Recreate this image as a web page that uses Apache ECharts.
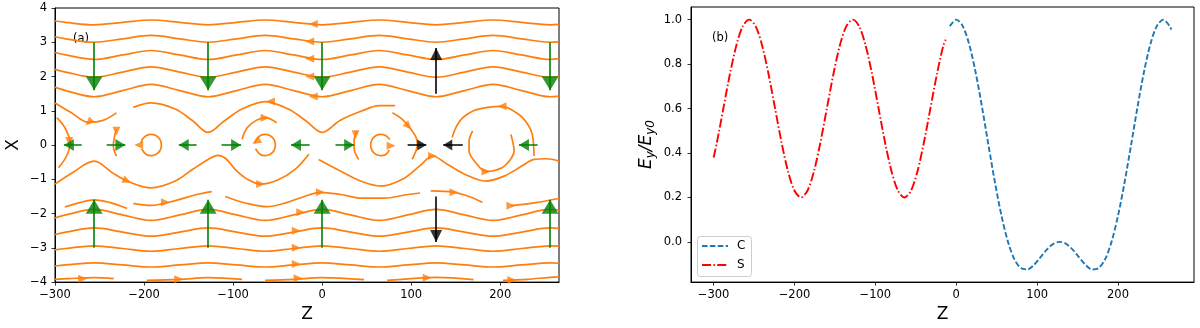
<!DOCTYPE html>
<html>
<head>
<meta charset="utf-8">
<script src="https://cdn.jsdelivr.net/npm/echarts@6/dist/echarts.min.js"></script>
<style>
html, body { margin: 0; padding: 0; background: #fff; }
#chart { width: 1200px; height: 328px; }
</style>
</head>
<body>
<div id="chart"></div>
<script>
// ---------- panel (b): field profile ----------
const sZ = [-300, -296, -288, -280, -272, -264, -256, -248, -240, -232, -224, -216, -208, -200, -192, -184, -176,
  -168, -160, -152, -144, -136, -128, -120, -112, -104, -96, -88, -80, -72, -64, -56, -48, -40, -32, -24, -16, -13];
const sVal = [0.38, 0.447, 0.6, 0.753, 0.883, 0.970, 1.0, 0.970, 0.883, 0.753, 0.6, 0.447, 0.317, 0.230, 0.2, 0.230, 0.317,
  0.447, 0.6, 0.753, 0.883, 0.970, 1.0, 0.970, 0.883, 0.753, 0.6, 0.447, 0.317, 0.230, 0.2, 0.230, 0.317, 0.447, 0.6, 0.753, 0.883, 0.91];
const cZ = [-8, 0, 8, 16, 24, 32, 40, 48, 56, 64, 72, 80, 88, 96, 104, 112, 120, 128,
  136, 144, 152, 160, 168, 176, 184, 192, 200, 208, 216, 224, 232, 240, 248, 256, 264, 266];
const cVal = [0.971, 1.0, 0.971, 0.889, 0.762, 0.604, 0.432, 0.265, 0.117, 0, -0.079, -0.118, -0.124, -0.104, -0.070, -0.035, -0.009, 0,
  -0.009, -0.035, -0.070, -0.104, -0.124, -0.118, -0.079, 0, 0.117, 0.265, 0.432, 0.604, 0.762, 0.889, 0.971, 1.0, 0.971, 0.955];

// ---------- panel (a): streamlines ----------
const waveZ = [-300, -288, -256, -224, -192, -160, -128, -96, -64, -32, 0, 32, 64, 96, 128, 160, 192, 224, 256, 266];
const upperLines = [
  [3.62, 3.58, 3.51, 3.58, 3.65, 3.58, 3.51, 3.58, 3.65, 3.58, 3.51, 3.58, 3.65, 3.58, 3.51, 3.58, 3.65, 3.58, 3.51, 3.52],
  [3.16, 3.10, 3.00, 3.10, 3.20, 3.10, 3.00, 3.10, 3.20, 3.10, 3.00, 3.10, 3.20, 3.10, 3.00, 3.10, 3.20, 3.10, 3.00, 3.01],
  [2.70, 2.63, 2.50, 2.63, 2.76, 2.63, 2.50, 2.63, 2.76, 2.63, 2.50, 2.63, 2.76, 2.63, 2.50, 2.63, 2.76, 2.63, 2.50, 2.52],
  [2.21, 2.13, 1.98, 2.13, 2.28, 2.13, 1.98, 2.13, 2.28, 2.13, 1.98, 2.13, 2.28, 2.13, 1.98, 2.13, 2.28, 2.13, 1.98, 2.00],
  [1.69, 1.59, 1.41, 1.59, 1.77, 1.59, 1.41, 1.59, 1.77, 1.59, 1.41, 1.59, 1.77, 1.59, 1.41, 1.59, 1.77, 1.59, 1.41, 1.43]
];
const lowerLines = [
  [-3.53, -3.50, -3.44, -3.50, -3.56, -3.50, -3.44, -3.50, -3.56, -3.50, -3.44, -3.50, -3.56, -3.50, -3.44, -3.50, -3.56, -3.50, -3.44, -3.45],
  [-3.06, -3.02, -2.94, -3.02, -3.10, -3.02, -2.94, -3.02, -3.10, -3.02, -2.94, -3.02, -3.10, -3.02, -2.94, -3.02, -3.10, -3.02, -2.94, -2.95],
  [-2.61, -2.54, -2.42, -2.54, -2.66, -2.54, -2.42, -2.54, -2.66, -2.54, -2.42, -2.54, -2.66, -2.54, -2.42, -2.54, -2.66, -2.54, -2.42, -2.43],
  [-2.13, -2.04, -1.88, -2.04, -2.20, -2.04, -1.88, -2.04, -2.20, -2.04, -1.88, -2.04, -2.20, -2.04, -1.88, -2.04, -2.20, -2.04, -1.88, -1.90]
];
// broken streamlines, [z, X] points
const brokenLines = [
  // bottom line near X = -3.9
  [[-300, -3.92], [-285, -3.9], [-256, -3.87], [-234, -3.9]],
  [[-197, -3.95], [-160, -3.92], [-128, -3.87], [-90, -3.92]],
  [[-64, -3.95], [-32, -3.92], [0, -3.87], [47, -3.93]],
  [[73, -3.95], [100, -3.9], [128, -3.86], [170, -3.93]],
  [[203, -3.95], [230, -3.92], [256, -3.86], [266, -3.85]],
  // line near X = -1.6
  [[-289, -1.81], [-272, -1.68], [-256, -1.6], [-238, -1.68], [-219, -1.85]],
  [[-212, -1.7], [-192, -1.76], [-165, -1.62], [-142, -1.45], [-124, -1.36]],
  [[-109, -1.5], [-85, -1.7], [-62, -1.8], [-40, -1.68], [-20, -1.5], [-2, -1.38], [22, -1.45], [45, -1.55], [70, -1.55], [95, -1.45], [110, -1.4]],
  [[122, -1.34], [148, -1.38], [165, -1.5], [180, -1.67]],
  [[212, -1.77], [240, -1.68], [266, -1.56]],
  // upper middle line
  [[-300, 1.23], [-282, 0.95], [-262, 0.66], [-246, 0.72], [-231, 0.94]],
  [[-212, 1.1], [-192, 1.23], [-165, 1.05], [-145, 0.7], [-128, 0.37], [-110, 0.7], [-90, 1.05], [-64, 1.27], [-38, 1.05],
   [-18, 0.7], [0, 0.37], [20, 0.72], [45, 1.0], [64, 1.15], [82, 1.15]],
  // lower middle line, running on into the lower arc round vortex 2
  [[-300, -1.14], [-280, -0.8], [-256, -0.47], [-235, -0.82], [-219, -1.05], [-192, -1.25], [-165, -1.05], [-145, -0.7],
   [-128, -0.42], [-117, -0.3], [-108, -0.4], [-98, -0.7], [-85, -0.98], [-69, -1.14], [-50, -1.02], [-30, -0.7], [-15, -0.27]],
  [[-4, -0.42], [20, -0.75], [43, -1.05], [66, -1.2], [90, -1.0], [110, -0.6], [124, -0.32], [140, -0.55], [160, -0.85],
   [184, -1.05], [205, -0.9], [225, -0.6], [238, -0.42], [252, -0.4], [266, -0.47]],
  // arcs around the vortices
  [[-298, 0.8], [-289, 0.51], [-283, 0.07], [-287, -0.32], [-296, -0.66]],
  [[-231, 0.46], [-233.5, 0.21], [-234.5, -0.03], [-231, -0.32]],
  [[-90, 0.17], [-84, 0.51], [-74, 0.72], [-64, 0.8], [-51, 0.65]],
  [[39, 0.41], [36, 0.15], [36, -0.1], [41, -0.42]],
  [[79, 0.94], [90, 0.75], [97, 0.55], [105, 0.25], [107, 0.02], [101, -0.42]],
  [[146, 0.22], [151, 0.55], [158, 0.8], [170, 1.0], [184, 1.09], [202, 1.13], [221, 0.89], [231, 0.6], [236, 0.31], [238, -0.32]],
  [[169, 0.41], [165, 0.1], [165, -0.17], [172, -0.5], [184, -0.77], [202, -0.66], [212, -0.4], [215.6, -0.17], [214, 0.1], [212, 0.31]],
  // small closed vortices 1, 2, 3
  [[-202.8, -0.11], [-197.8, -0.27], [-192, -0.31], [-186.3, -0.27], [-182, -0.16], [-180.5, 0], [-182, 0.16], [-186.3, 0.27],
   [-192, 0.31], [-197.8, 0.27], [-202, 0.16], [-203.3, 0.05]],
  [[-74.8, -0.11], [-69.8, -0.27], [-64, -0.31], [-58.3, -0.27], [-54, -0.16], [-52.5, 0], [-54, 0.16], [-58.3, 0.27],
   [-64, 0.31], [-69.8, 0.27], [-74, 0.16], [-75.3, 0.05]],
  [[76, 0.16], [71.7, 0.27], [66, 0.31], [60.2, 0.27], [56, 0.16], [54.5, 0], [56, -0.16], [60.2, -0.27], [66, -0.31],
   [71.7, -0.27], [75.5, -0.14]]
];
// streamline arrowheads: [z, X, rotation deg (0 = up, 90 = left)]
const streamArrows = [
  [-10, 3.53, 90], [-14, 3.02, 90], [-14, 2.52, 90], [-14, 2.0, 90], [-10, 1.42, 90],
  [-262, 0.66, 135], [-58, 1.27, 90], [-231, 0.4, 180], [-284, 0.1, 180],
  [-206, 0.0, 90], [-74, 0.1, 120], [-64, 0.8, -90], [-69, -1.14, -90],
  [37.5, 0.3, 180], [77.5, -0.02, -90], [97, 0.55, -135],
  [202, 1.13, 90], [184, -0.77, -90], [124, -0.32, -90], [-219, -1.05, -114],
  [-24, -1.96, -90], [-29, -2.5, -90], [-29, -3.0, -90], [-29, -3.47, -90],
  [-176, -1.67, -90], [-2, -1.38, -90], [148, -1.38, -90], [212, -1.77, -90],
  [-269, -3.9, -90], [-161, -3.92, -90], [-27, -3.89, -90], [118, -3.87, -90], [213, -3.94, -90]
];
// quiver arrows: vertical [z, tailX, tipX], horizontal [tailZ, tipZ] on X = 0
const greenVertical = [[-256, 3, 1.6], [-128, 3, 1.6], [0, 3, 1.6], [256, 3, 1.6],
  [-256, -3, -1.6], [-128, -3, -1.6], [0, -3, -1.6], [256, -3, -1.6]];
const blackVertical = [[128, 1.5, 2.83], [128, -1.5, -2.83]];
const greenHorizontal = [[-270, -290], [-242, -221], [-141, -161], [-113, -91], [-14, -35], [15, 36], [242, 221]];
const blackHorizontal = [[96, 117], [158, 136]];
const vortexLabels = [['1', -192], ['2', -64], ['3', 66], ['4', 194]];

const ORANGE = '#ff7f0e', GREEN = '#008000';
const FONT = 'DejaVu Sans';
const minus = v => (v < 0 ? '\u2212' + Math.abs(v) : String(v));

const series = [];
function stream(points) {
  series.push({
    type: 'line', xAxisIndex: 0, yAxisIndex: 0, data: points, smooth: 0.35,
    showSymbol: false, symbol: 'none', silent: true,
    lineStyle: { color: ORANGE, width: 1.7 }, z: 2
  });
}
upperLines.forEach(a => stream(waveZ.map((z, i) => [z, a[i]])));
lowerLines.forEach(a => stream(waveZ.map((z, i) => [z, a[i]])));
brokenLines.forEach(a => stream(a));

series.push({
  type: 'scatter', xAxisIndex: 0, yAxisIndex: 0, symbol: 'triangle', symbolSize: [8, 9], silent: true, z: 3,
  itemStyle: { color: ORANGE },
  data: streamArrows.map(a => ({ value: [a[0], a[1]], symbolRotate: a[2] }))
});

function shafts(list, color) {
  series.push({
    type: 'lines', coordinateSystem: 'cartesian2d', xAxisIndex: 0, yAxisIndex: 0, silent: true, z: 4,
    lineStyle: { color: color, width: 1.6, opacity: 1 },
    data: list
  });
}
shafts(greenVertical.map(a => ({ coords: [[a[0], a[1]], [a[0], a[2]]] })), GREEN);
shafts(greenHorizontal.map(a => ({ coords: [[a[0], 0], [a[1], 0]] })), GREEN);
shafts(blackVertical.map(a => ({ coords: [[a[0], a[1]], [a[0], a[2]]] })), '#000');
shafts(blackHorizontal.map(a => ({ coords: [[a[0], 0], [a[1], 0]] })), '#000');

function heads(list, color, size) {
  series.push({
    type: 'scatter', xAxisIndex: 0, yAxisIndex: 0, symbol: 'triangle', symbolSize: size, silent: true, z: 5,
    itemStyle: { color: color },
    data: list
  });
}
const vHead = (a, h) => ({ value: [a[0], a[2]], symbolRotate: a[2] < a[1] ? 180 : 0, symbolOffset: [0, a[2] < a[1] ? -h / 2 : h / 2] });
const hHead = (a, h) => ({ value: [a[1], 0], symbolRotate: a[1] < a[0] ? 90 : -90, symbolOffset: [a[1] < a[0] ? h / 2 : -h / 2, 0] });
heads(greenVertical.map(a => vHead(a, 14)), GREEN, [17, 14]);
heads(greenHorizontal.map(a => hHead(a, 10)), GREEN, [12, 10]);
heads(blackVertical.map(a => vHead(a, 12)), '#000', [12, 12]);
heads(blackHorizontal.map(a => hHead(a, 9)), '#000', [11, 9]);

series.push({
  type: 'scatter', xAxisIndex: 0, yAxisIndex: 0, symbol: 'none', silent: true, z: 6,
  data: vortexLabels.map(v => ({ value: [v[1], 0], name: v[0] })),
  label: { show: true, position: 'inside', formatter: p => p.name, color: '#000', fontSize: 11.5, fontFamily: FONT }
});

// panel (b) series
const cStyle = { color: '#1f77b4', width: 1.9, type: [5.5, 2.4] };
const sStyle = { color: '#ff0000', width: 1.9, type: [9, 2.4, 1.5, 2.4] };
series.push({
  name: 'C', type: 'line', xAxisIndex: 1, yAxisIndex: 1, data: cZ.map((z, i) => [z, cVal[i]]),
  smooth: 0.3, showSymbol: false, symbol: 'none', lineStyle: cStyle
});
series.push({
  name: 'S', type: 'line', xAxisIndex: 1, yAxisIndex: 1, data: sZ.map((z, i) => [z, sVal[i]]),
  smooth: 0.3, showSymbol: false, symbol: 'none', lineStyle: sStyle
});

const tickStyle = { show: true, length: 3.5, lineStyle: { color: '#000', width: 0.8 } };
const labelStyle = { color: '#000', fontSize: 11.5, fontFamily: FONT };
const nameStyle = { color: '#000', fontSize: 17, fontFamily: FONT };
const axisLine = { onZero: false, lineStyle: { color: '#000', width: 1 } };
const zTicks = [-300, -200, -100, 0, 100, 200];
const eTicks = [0, 0.2, 0.4, 0.6, 0.8, 1.0];

const option = {
  animation: false,
  backgroundColor: '#fff',
  grid: [
    { left: 55, top: 8, width: 504, height: 275, show: true, borderColor: '#000', borderWidth: 1 },
    { left: 691, top: 7, width: 503, height: 276, show: true, borderColor: '#000', borderWidth: 1 }
  ],
  xAxis: [
    { type: 'value', gridIndex: 0, min: -300, max: 266, splitLine: { show: false }, axisLine: axisLine,
      axisTick: Object.assign({ customValues: zTicks }, tickStyle),
      axisLabel: Object.assign({ customValues: zTicks, formatter: minus, margin: 7 }, labelStyle),
      name: 'Z', nameLocation: 'middle', nameGap: 23, nameTextStyle: nameStyle },
    { type: 'value', gridIndex: 1, min: -328, max: 294, splitLine: { show: false }, axisLine: axisLine,
      axisTick: Object.assign({ customValues: zTicks }, tickStyle),
      axisLabel: Object.assign({ customValues: zTicks, formatter: minus, margin: 7 }, labelStyle),
      name: 'Z', nameLocation: 'middle', nameGap: 23, nameTextStyle: nameStyle }
  ],
  yAxis: [
    { type: 'value', gridIndex: 0, min: -4, max: 4, interval: 1, splitLine: { show: false }, axisLine: axisLine,
      axisTick: tickStyle,
      axisLabel: Object.assign({ formatter: minus, margin: 8 }, labelStyle),
      name: 'X', nameLocation: 'middle', nameGap: 33, nameRotate: 90, nameTextStyle: nameStyle },
    { type: 'value', gridIndex: 1, min: -0.181, max: 1.057, splitLine: { show: false }, axisLine: axisLine,
      axisTick: Object.assign({ customValues: eTicks }, tickStyle),
      axisLabel: Object.assign({ customValues: eTicks, margin: 9,
        formatter: v => (v < 0 ? '\u2212' : '') + Math.abs(v).toFixed(1) }, labelStyle),
      name: '{i|E}{s|y}{i|/E}{s|y0}', nameLocation: 'middle', nameGap: 34, nameRotate: 90,
      nameTextStyle: { color: '#000', fontFamily: FONT, rich: {
        i: { fontSize: 17, fontStyle: 'italic', fontFamily: FONT, color: '#000' },
        s: { fontSize: 12, fontStyle: 'italic', fontFamily: FONT, color: '#000', verticalAlign: 'bottom', padding: [9, 0, 0, 0] }
      } } }
  ],
  graphic: [
    { type: 'text', left: 73, top: 33, style: { text: '(a)', fontSize: 11.5, fontFamily: FONT, fill: '#000' } },
    { type: 'text', left: 712, top: 32, style: { text: '(b)', fontSize: 11.5, fontFamily: FONT, fill: '#000' } },
    // legend box
    { type: 'rect', shape: { x: 697.5, y: 236.5, width: 54, height: 40, r: 3 }, z: 10,
      style: { fill: 'rgba(255,255,255,0.8)', stroke: '#cccccc', lineWidth: 1 } },
    { type: 'line', shape: { x1: 702, y1: 246, x2: 728, y2: 246 }, z: 11,
      style: { stroke: cStyle.color, lineWidth: cStyle.width, lineDash: cStyle.type } },
    { type: 'line', shape: { x1: 702, y1: 265, x2: 728, y2: 265 }, z: 11,
      style: { stroke: sStyle.color, lineWidth: sStyle.width, lineDash: sStyle.type } },
    { type: 'text', x: 737, y: 246, z: 11, style: { text: 'C', fontSize: 12, fontFamily: FONT, fill: '#000', verticalAlign: 'middle' } },
    { type: 'text', x: 737, y: 265, z: 11, style: { text: 'S', fontSize: 12, fontFamily: FONT, fill: '#000', verticalAlign: 'middle' } }
  ],
  series: series
};

const chart = echarts.init(document.getElementById('chart'), null, { renderer: 'canvas' });
chart.setOption(option);
window.addEventListener('resize', chart.resize);
</script>
</body>
</html>
